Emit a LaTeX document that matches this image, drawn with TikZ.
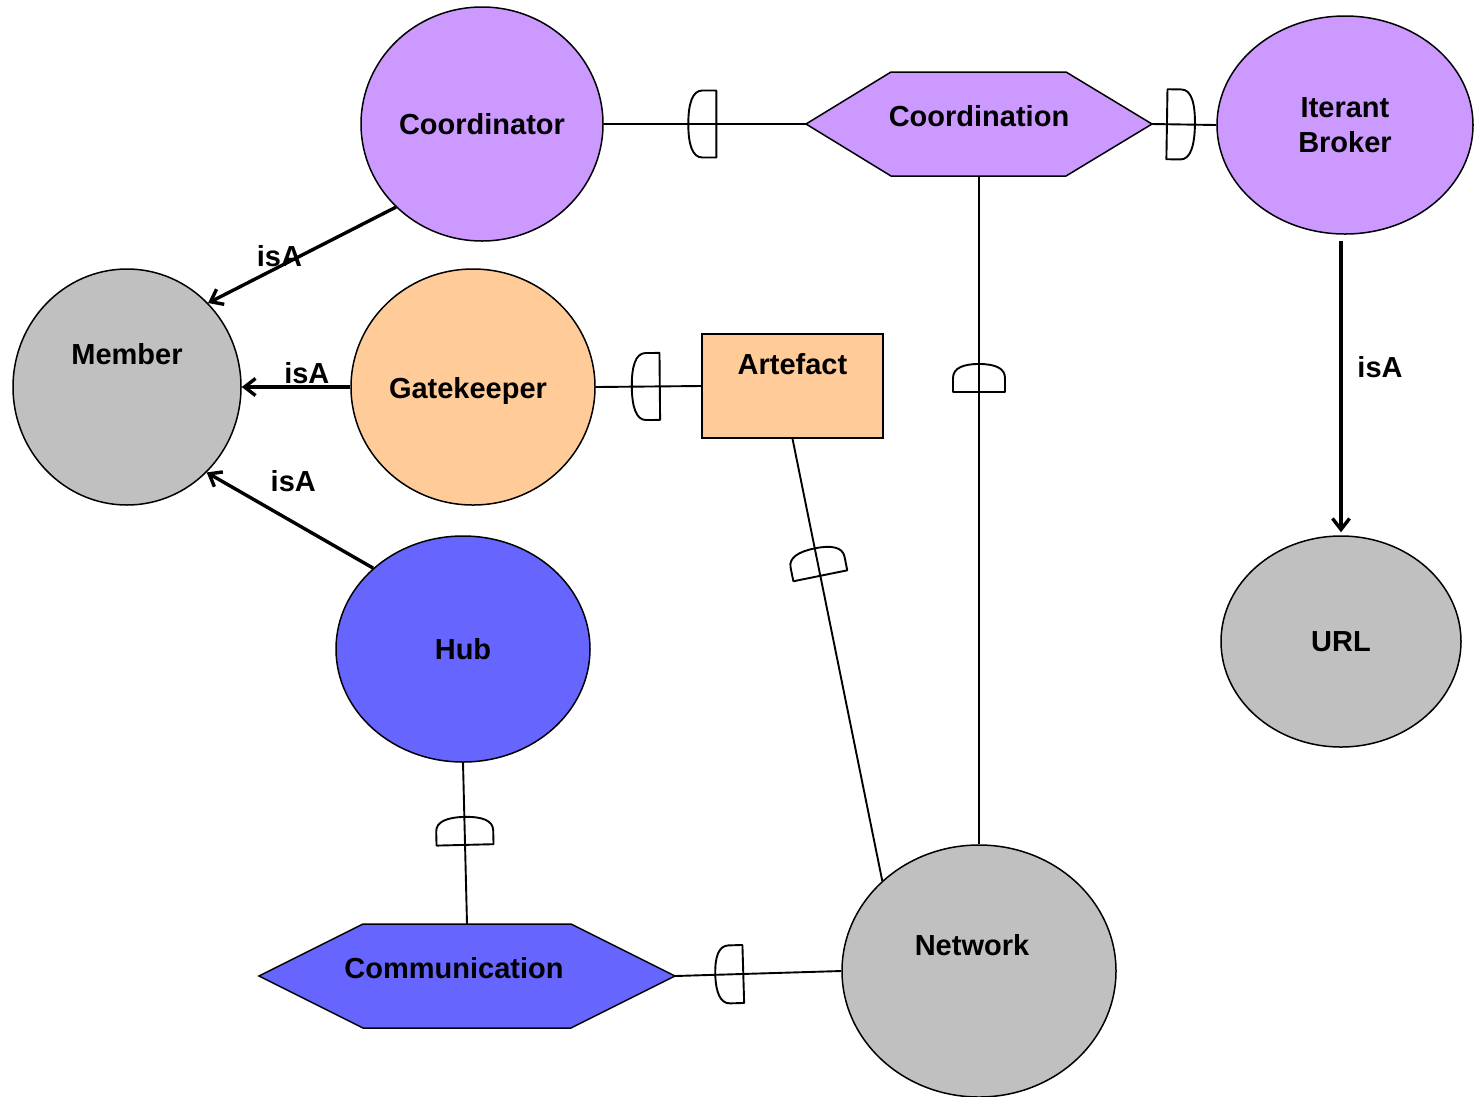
\documentclass[tikz,border=0pt]{standalone}
\usepackage{fontspec}
\setmainfont{Liberation Sans}
\usetikzlibrary{shapes.geometric,arrows.meta}
\definecolor{violetfill}{HTML}{CC99FF}
\definecolor{peachfill}{HTML}{FFCC99}
\definecolor{bluefill}{HTML}{6666FF}
\definecolor{greyfill}{HTML}{C0C0C0}

\begin{document}
\begin{tikzpicture}[x=1pt,y=-1pt,
  font={\fontsize{29}{34}\selectfont\bfseries},
  actor/.style={ellipse, draw, line width=1.5pt, inner sep=0pt, align=center},
  box/.style={rectangle, draw, line width=1.5pt, inner sep=0pt},
  anchorbox/.style={rectangle, inner sep=0pt},
  tag/.style={inner sep=0pt, align=center},
  link/.style={line width=1.9pt},
  isa/.style={line width=3.4pt, -{Straight Barb[length=11pt,width=17pt]}},
  hexa/.style={line width=1.5pt, draw=black},
  pics/dep/.style={code={%
    \draw[line width=1.9pt, line join=round]
      (0,-#1) -- (-14,-#1)
      .. controls (-24,-#1) and (-28,{-0.6*#1}) .. (-28,0)
      .. controls (-28,{0.6*#1}) and (-24,#1) .. (-14,#1)
      -- (0,#1) -- cycle;}}
]
\useasboundingbox (0,0) rectangle (1474,1096);

% hexagonal tasks
\filldraw[hexa, fill=violetfill] (806,124) -- (891,72) -- (1066,72) -- (1152,124)
  -- (1066,176) -- (891,176) -- cycle;
\filldraw[hexa, fill=bluefill] (259,976) -- (363,924) -- (571,924) -- (675,976)
  -- (571,1028) -- (363,1028) -- cycle;
\node[anchorbox, minimum width=346pt, minimum height=104pt,
  label={[tag, yshift=8pt]center:Coordination}] (coordination) at (979,124) {};
\node[anchorbox, minimum width=416pt, minimum height=104pt,
  label={[tag, xshift=-13pt, yshift=8pt]center:Communication}] (communication) at (467,976) {};

% actors and roles
\node[actor, fill=violetfill, minimum width=242pt, minimum height=234pt] (coordinator) at (482,124) {Coordinator};
\node[actor, fill=violetfill, minimum width=256pt, minimum height=218pt] (broker) at (1345,125) {Iterant\\[1pt]Broker};
\node[actor, fill=greyfill, minimum width=228pt, minimum height=236pt,
  label={[tag, yshift=33pt]center:Member}] (member) at (127,387) {};
\node[actor, fill=peachfill, minimum width=244pt, minimum height=236pt,
  label={[tag, xshift=-5pt, yshift=-4pt]center:Gatekeeper}] (gatekeeper) at (473,387) {};
\node[box, fill=peachfill, minimum width=181pt, minimum height=104pt,
  label={[tag, yshift=22pt]center:Artefact}] (artefact) at (792.5,386) {};
\node[actor, fill=bluefill, minimum width=254pt, minimum height=226pt] (hub) at (463,649) {Hub};
\node[actor, fill=greyfill, minimum width=274pt, minimum height=252pt,
  label={[tag, xshift=-7pt, yshift=26pt]center:Network}] (network) at (979,971) {};
\node[actor, fill=greyfill, minimum width=240pt, minimum height=211pt] (url) at (1341,641.5) {URL};

% dependency links
\draw[link] (coordinator.east) -- pic[pos=0.557, sloped, allow upside down]{dep=33.5} (coordination.west);
\draw[link] (broker.west) -- pic[pos=0.77, sloped, allow upside down]{dep=35} (coordination.east);
\draw[link] (coordination.south) -- pic[pos=0.323, sloped, allow upside down]{dep=26} (network.north);
\draw[link] (gatekeeper.east) -- pic[pos=0.607, sloped, allow upside down]{dep=33.5} (artefact.west);
\draw[link] (artefact.south) -- pic[pos=0.31, sloped, allow upside down]{dep=27.5} (network.137.5);
\draw[link] (hub.south) -- pic[pos=0.51, sloped, allow upside down]{dep=28.5} (communication.north);
\draw[link] (communication.east) -- pic[pos=0.41, sloped, allow upside down]{dep=29} (network.west);

% isA links
\draw[isa] (coordinator.224.3) -- node[tag, pos=0.62, yshift=10pt]{isA} (member.46.4);
\draw[isa] (gatekeeper.west) -- node[tag, pos=0.4, yshift=14pt]{isA} (member.east);
\draw[isa] (hub.138) -- node[tag, pos=0.48, yshift=41pt]{isA} (member.313.6);
\draw[isa, shorten <=6pt, shorten >=3pt] (broker.south -| url.north) -- node[tag, pos=0.43, xshift=39pt, yshift=-3pt]{isA} (url.north);
\end{tikzpicture}
\end{document}
